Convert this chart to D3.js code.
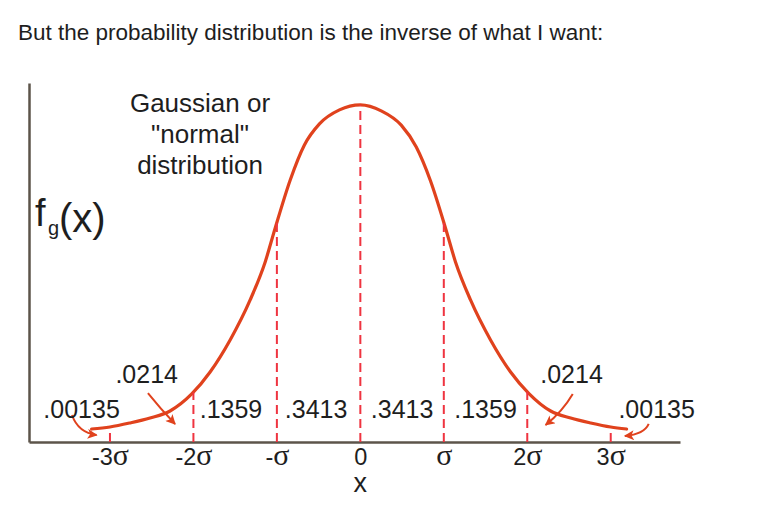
<!DOCTYPE html>
<html>
<head>
<meta charset="utf-8">
<script src="https://cdn.jsdelivr.net/npm/d3@7"></script>
<style>
  body { margin: 0; background: #fff; }
  text { font-family: "Liberation Sans", Arial, sans-serif; fill: #1e1e1e; }
</style>
</head>
<body>
<div id="chart-container"></div>
<script>
// curve: x in sigma units, y = density (peak ~0.40)
const curveX = [-3.22, -3.00, -2.76, -2.52, -2.28, -2.02, -1.80, -1.56, -1.32, -1.14, -1.02, -0.84, -0.67, -0.49, -0.25, 0.00,
                0.25, 0.49, 0.67, 0.84, 1.02, 1.14, 1.32, 1.56, 1.80, 2.02, 2.28, 2.52, 2.76, 3.00, 3.19];
const curveY = [0.0154, 0.0178, 0.0226, 0.0285, 0.0368, 0.0570, 0.0831, 0.1211, 0.1686, 0.2137, 0.2540, 0.3110, 0.3525, 0.3775, 0.3941, 0.4000,
                0.3930, 0.3760, 0.3500, 0.3100, 0.2540, 0.2137, 0.1686, 0.1211, 0.0831, 0.0575, 0.0368, 0.0285, 0.0226, 0.0178, 0.0154];

// axis ticks (sigma units) and their labels
const tickValues = [-3, -2, -1, 0, 1, 2, 3];
const tickNums = ['-3', '-2', '-', '0', '', '2', '3'];
const tickSigma = [true, true, true, false, true, true, true];

// dashed dividers
const dividers = [-2, -1, 0, 1, 2];

// area probabilities and where they sit
const areaLabels = ['.00135', '.0214', '.1359', '.3413', '.3413', '.1359', '.0214', '.00135'];
const areaLabelX = [-3.34, -2.56, -1.55, -0.53, 0.50, 1.50, 2.53, 3.55];
const areaLabelY = [0.0285, 0.070, 0.0285, 0.0285, 0.0285, 0.0285, 0.070, 0.0285];

// arrows from the tail labels to the tails: [x0, y0, cx, cy, x1, y1]
const arrows = [
    [-3.455, 0.032, -3.38, 0.011, -3.16, 0.0083],
    [-2.545, 0.058, -2.40, 0.040, -2.22, 0.0214],
    [2.545, 0.057, 2.42, 0.036, 2.22, 0.0202],
    [3.455, 0.0214, 3.40, 0.009, 3.17, 0.0071]
];

const width = 784;
const height = 517;
const curveColor = '#e0421d';
const dashColor = '#ef3440';

const svg = d3.select('#chart-container').append('svg')
    .attr('width', width)
    .attr('height', height);

svg.append('text')
    .attr('x', 18)
    .attr('y', 40)
    .style('font-size', '22.5px')
    .text('But the probability distribution is the inverse of what I want:');

const x = d3.scaleLinear().domain([-3.97, 3.83]).range([29, 680]);
const y = d3.scaleLinear().domain([0, 0.426]).range([442, 83]);

svg.append('defs').append('marker')
    .attr('id', 'head')
    .attr('viewBox', '0 -5 10 10')
    .attr('refX', 9)
    .attr('refY', 0)
    .attr('markerUnits', 'userSpaceOnUse')
    .attr('markerWidth', 13)
    .attr('markerHeight', 10)
    .attr('orient', 'auto')
    .append('path')
    .attr('d', 'M0,-5L10,0L0,5L2.5,0Z')
    .attr('fill', curveColor);

// axes
const xAxis = svg.append('g')
    .attr('transform', `translate(0,${y(0)})`)
    .call(d3.axisBottom(x).tickValues(tickValues).tickSize(0).tickSizeOuter(0).tickFormat(''));
xAxis.select('.domain').attr('stroke', '#5c544a').attr('stroke-width', 2.5);

xAxis.selectAll('.tick text')
    .attr('y', 23)
    .attr('dy', 0)
    .attr('fill', '#1e1e1e')
    .each(function (d, i) {
        const t = d3.select(this);
        t.append('tspan').style('font-size', '23.5px').style('font-family', '"Liberation Sans", Arial, sans-serif').text(tickNums[i]);
        if (tickSigma[i]) {
            t.append('tspan').style('font-size', '30px').style('font-family', '"Liberation Serif", "Times New Roman", serif').text('σ');
        }
    });

const yAxis = svg.append('g')
    .attr('transform', `translate(${x.range()[0]},0)`)
    .call(d3.axisLeft(y).tickValues([]).tickSizeOuter(0));
yAxis.select('.domain').attr('stroke', '#5c544a').attr('stroke-width', 2.5);

// curve
const pts = curveX.map((d, i) => [d, curveY[i]]);
const line = d3.line().x(d => x(d[0])).y(d => y(d[1])).curve(d3.curveMonotoneX);

const curvePath = svg.append('path')
    .datum(pts)
    .attr('d', line)
    .attr('fill', 'none')
    .attr('stroke', curveColor)
    .attr('stroke-width', 3.2)
    .attr('stroke-linecap', 'round');

// find the curve height at a given pixel x on the drawn path
function curveTopAt(px) {
    const node = curvePath.node();
    let lo = 0, hi = node.getTotalLength();
    for (let k = 0; k < 40; k++) {
        const mid = (lo + hi) / 2;
        if (node.getPointAtLength(mid).x < px) lo = mid; else hi = mid;
    }
    return node.getPointAtLength(lo).y;
}

svg.selectAll('.divider')
    .data(dividers)
    .enter()
    .append('line')
    .attr('class', 'divider')
    .attr('x1', d => x(d))
    .attr('x2', d => x(d))
    .attr('y1', y(0))
    .attr('y2', d => curveTopAt(x(d)))
    .attr('stroke', dashColor)
    .attr('stroke-width', 2)
    .attr('stroke-dasharray', '9,5');

// small solid ticks at +-3 sigma
svg.selectAll('.sigma3')
    .data([-3, 3])
    .enter()
    .append('line')
    .attr('x1', d => x(d))
    .attr('x2', d => x(d))
    .attr('y1', y(0))
    .attr('y2', y(0) - 9)
    .attr('stroke', dashColor)
    .attr('stroke-width', 2);

// arrows
svg.selectAll('.arrow')
    .data(arrows)
    .enter()
    .append('path')
    .attr('d', a => `M${x(a[0])},${y(a[1])}Q${x(a[2])},${y(a[3])} ${x(a[4])},${y(a[5])}`)
    .attr('fill', 'none')
    .attr('stroke', curveColor)
    .attr('stroke-width', 2)
    .attr('marker-end', 'url(#head)');

// area labels
svg.selectAll('.area')
    .data(areaLabels)
    .enter()
    .append('text')
    .attr('x', (d, i) => x(areaLabelX[i]))
    .attr('y', (d, i) => y(areaLabelY[i]))
    .attr('text-anchor', 'middle')
    .style('font-size', '25px')
    .text(d => d);

// title inside the plot
const titleLines = ['Gaussian or', '"normal"', 'distribution'];
svg.selectAll('.gl')
    .data(titleLines)
    .enter()
    .append('text')
    .attr('x', 200)
    .attr('y', (d, i) => 112 + i * 31)
    .attr('text-anchor', 'middle')
    .style('font-size', '26px')
    .text(d => d);

// y label f_g(x)
svg.append('text').attr('x', 35).attr('y', 226).style('font-size', '38px').text('f');
svg.append('text').attr('x', 48).attr('y', 235).style('font-size', '20px').text('g');
svg.append('text').attr('x', 59).attr('y', 232).style('font-size', '40px').text('(x)');

// x label
svg.append('text')
    .attr('x', x(0))
    .attr('y', 492)
    .attr('text-anchor', 'middle')
    .style('font-size', '27px')
    .text('x');
</script>
</body>
</html>
